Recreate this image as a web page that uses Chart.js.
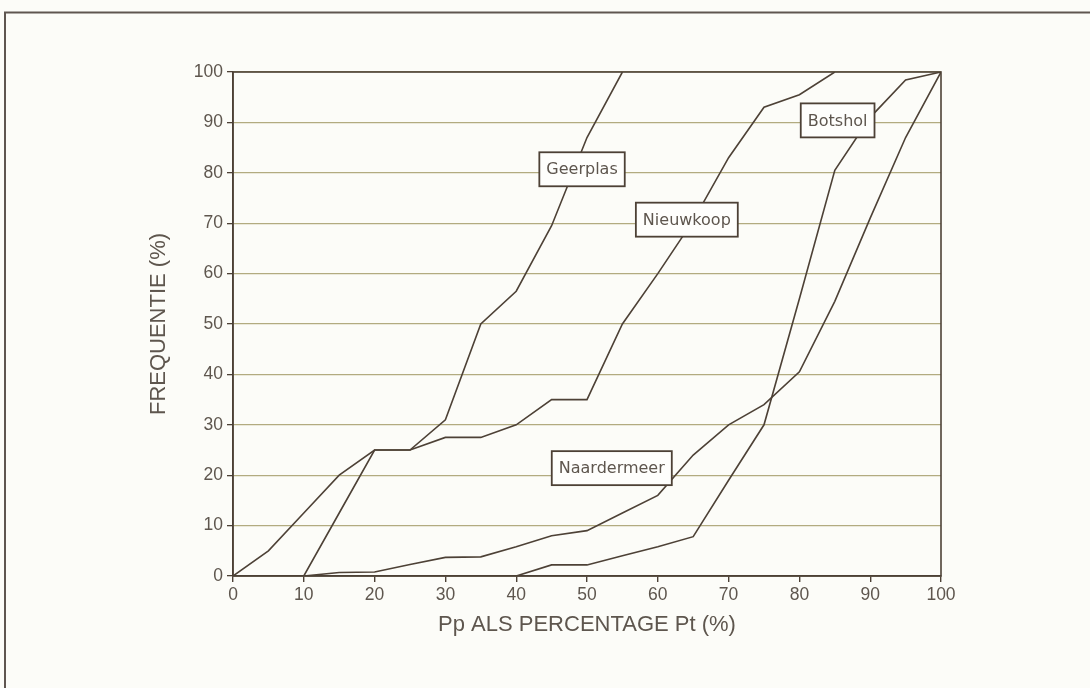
<!DOCTYPE html>
<html>
<head>
<meta charset="utf-8">
<script src="https://cdn.jsdelivr.net/npm/chart.js@4/dist/chart.umd.min.js"></script>
<style>
  html, body { margin: 0; padding: 0; background: #fcfcf8; }
  #wrap { width: 1090px; height: 688px; position: relative; }
</style>
</head>
<body>
<div id="wrap"><canvas id="c" width="1090" height="688"></canvas></div>
<script>
// Pp as percentage of Pt (x) against cumulative frequency (y), four lakes
const ppPercent = [0, 5, 10, 15, 20, 25, 30, 35, 40, 45, 50, 55, 60, 65, 70, 75, 80, 85, 90, 95, 100];

const geerplas    = [0, 5, 12.5, 20, 25, 25, 31, 50, 56.5, 69.5, 87, 100, null, null, null, null, null, null, null, null, null];
const nieuwkoop   = [null, null, 0, 12.5, 25, 25, 27.5, 27.5, 30, 35, 35, 50, 60, 70.5, 83, 93, 95.5, 100, null, null, null];
const naardermeer = [null, null, 0, 0.7, 0.8, 2.3, 3.7, 3.8, 5.8, 8, 9, 12.5, 16, 24, 30, 34, 40.5, 54.5, 71, 87, 100];
const botshol     = [null, null, null, null, null, null, null, null, 0, 2.2, 2.2, 4, 5.8, 7.8, 19, 30, 55, 80.5, 91, 98.4, 100];

const seriesNames = ['Geerplas', 'Nieuwkoop', 'Naardermeer', 'Botshol'];
const seriesValues = [geerplas, nieuwkoop, naardermeer, botshol];

// name boxes, placed in data units (x = Pp %, y = frequentie %)
const tagX = [49.3, 64.1, 53.5, 85.4];
const tagY = [80.7, 70.7, 21.4, 90.4];

const xTicks = [0, 10, 20, 30, 40, 50, 60, 70, 80, 90, 100];
const yTicks = [0, 10, 20, 30, 40, 50, 60, 70, 80, 90, 100];

const INK = '#4d4136';
const GRID = '#b2ab80';
const TEXT = '#5e564e';

function toPoints(values) {
  const pts = [];
  values.forEach((v, i) => { if (v !== null) pts.push({ x: ppPercent[i], y: v }); });
  return pts;
}

const datasets = seriesNames.map((name, k) => ({
  label: name,
  data: toPoints(seriesValues[k]),
  borderColor: INK,
  borderWidth: 1.6,
  pointRadius: 0,
  tension: 0,
  fill: false
}));

// outer page frame and plot box
const framePlugin = {
  id: 'frame',
  beforeDraw(chart) {
    const ctx = chart.ctx;
    ctx.save();
    ctx.fillStyle = '#fcfcf8';
    ctx.fillRect(0, 0, chart.width, chart.height);
    ctx.strokeStyle = '#5f5650';
    ctx.lineWidth = 2;
    ctx.beginPath();
    ctx.moveTo(5, chart.height);
    ctx.lineTo(5, 12.5);
    ctx.lineTo(chart.width, 12.5);
    ctx.stroke();
    ctx.restore();
  },
  afterDatasetsDraw(chart) {
    const a = chart.chartArea;
    const ctx = chart.ctx;
    ctx.save();
    ctx.strokeStyle = INK;
    ctx.lineWidth = 1.6;
    ctx.strokeRect(a.left, a.top, a.right - a.left, a.bottom - a.top);
    ctx.restore();
  }
};

// boxed series names
const tagPlugin = {
  id: 'tags',
  afterDatasetsDraw(chart) {
    const ctx = chart.ctx;
    const xs = chart.scales.x, ys = chart.scales.y;
    ctx.save();
    ctx.font = '16px "DejaVu Sans"';
    ctx.textAlign = 'center';
    ctx.textBaseline = 'middle';
    seriesNames.forEach((name, k) => {
      const cx = xs.getPixelForValue(tagX[k]);
      const cy = ys.getPixelForValue(tagY[k]);
      const w = ctx.measureText(name).width + 14;
      const h = 34;
      ctx.fillStyle = '#fefefc';
      ctx.fillRect(cx - w / 2, cy - h / 2, w, h);
      ctx.strokeStyle = INK;
      ctx.lineWidth = 1.8;
      ctx.strokeRect(cx - w / 2, cy - h / 2, w, h);
      ctx.fillStyle = TEXT;
      ctx.fillText(name, cx, cy + 1);
    });
    ctx.restore();
  }
};

new Chart(document.getElementById('c'), {
  type: 'line',
  data: { datasets },
  plugins: [framePlugin, tagPlugin],
  options: {
    responsive: false,
    animation: false,
    layout: { padding: { left: 0, right: 149, top: 72, bottom: 0 } },
    plugins: { legend: { display: false }, tooltip: { enabled: false } },
    scales: {
      x: {
        type: 'linear',
        min: 0, max: 100,
        afterBuildTicks(scale) { scale.ticks = xTicks.map(v => ({ value: v })); },
        afterFit(scale) { scale.height = 112; },
        grid: { drawOnChartArea: false, drawTicks: true, tickLength: 6, color: INK, tickColor: INK, lineWidth: 1.4 },
        border: { color: INK, width: 1.6 },
        ticks: { color: TEXT, font: { family: '"Liberation Sans"', size: 17.5 }, padding: 3, maxRotation: 0 },
        title: {
          display: true,
          text: 'Pp ALS PERCENTAGE Pt (%)',
          color: TEXT,
          font: { family: '"Liberation Sans"', size: 22 },
          padding: { top: 0, bottom: 50 }
        }
      },
      y: {
        type: 'linear',
        min: 0, max: 100,
        afterBuildTicks(scale) { scale.ticks = yTicks.map(v => ({ value: v })); },
        afterFit(scale) { scale.width = 233; },
        grid: { drawOnChartArea: true, drawTicks: true, tickLength: 6, color: GRID, tickColor: INK, lineWidth: 1.3 },
        border: { color: INK, width: 1.6 },
        ticks: { color: TEXT, font: { family: '"Liberation Sans"', size: 17.5 }, padding: 4 },
        title: {
          display: true,
          text: 'FREQUENTIE (%)',
          color: TEXT,
          font: { family: '"Liberation Sans"', size: 22 },
          padding: { top: 146, bottom: 0 }
        }
      }
    }
  }
});
</script>
</body>
</html>
